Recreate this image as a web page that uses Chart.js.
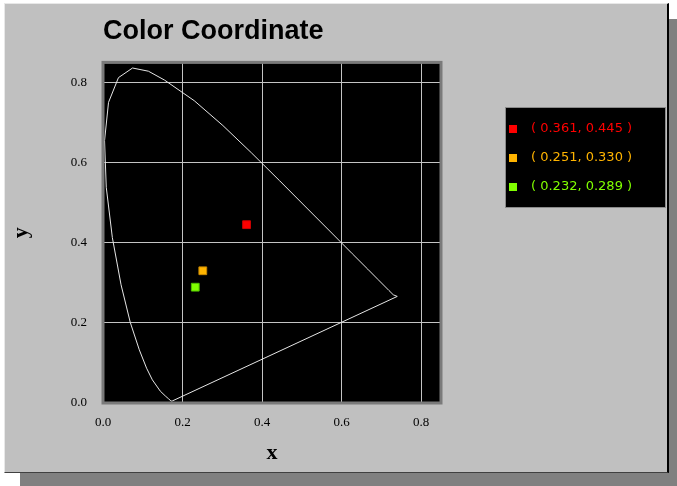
<!DOCTYPE html>
<html>
<head>
<meta charset="utf-8">
<script src="https://cdn.jsdelivr.net/npm/chart.js@4"></script>
<style>
  html, body { margin: 0; padding: 0; background: #ffffff; }
  #wrap { position: relative; width: 677px; height: 486px; overflow: hidden; }
  #shadow { position: absolute; left: 20px; top: 19px; width: 657px; height: 467px; background: #808080; }
  #panel { position: absolute; left: 4px; top: 3px; width: 662px; height: 468px; background: #c0c0c0;
    border-left: 1px solid #e8e8e8; border-top: 1px solid #e8e8e8; border-right: 2px solid #000; border-bottom: 1px solid #404040; }
  #chart { position: absolute; left: 0; top: 0; }
</style>
</head>
<body>
<div id="wrap">
  <div id="shadow"></div>
  <div id="panel"></div>
  <canvas id="chart" width="677" height="486"></canvas>
</div>
<script>
// CIE 1931 spectral locus (closed back to the start by the purple line)
var locusX = [0.1741, 0.1733, 0.1714, 0.1689, 0.1644, 0.1566, 0.1440, 0.1241, 0.1096, 0.0913, 0.0687, 0.0454,
  0.0235, 0.0082, 0.0039, 0.0139, 0.0389, 0.0743, 0.1142, 0.1547, 0.2296, 0.3016, 0.3731, 0.4441, 0.5125,
  0.5752, 0.6270, 0.6658, 0.6915, 0.7190, 0.7300, 0.7400, 0.1741];
var locusY = [0.0050, 0.0048, 0.0051, 0.0069, 0.0109, 0.0177, 0.0297, 0.0578, 0.0868, 0.1327, 0.2007, 0.2950,
  0.4127, 0.5384, 0.6548, 0.7502, 0.8120, 0.8360, 0.8280, 0.8059, 0.7543, 0.6923, 0.6245, 0.5547, 0.4866,
  0.4242, 0.3725, 0.3340, 0.3083, 0.2809, 0.2700, 0.2660, 0.0050];

// measured colour points
var pointX = [0.361, 0.251, 0.232];
var pointY = [0.445, 0.330, 0.289];
var pointColors = ['#ff0000', '#ffb400', '#80ff00'];
var pointBorders = ['#d00000', '#c88800', '#50c000'];

var tickValues = [0.0, 0.2, 0.4, 0.6, 0.8];

var locus = locusX.map(function (x, i) { return { x: x, y: locusY[i] }; });

var datasets = [{
  label: 'locus',
  data: locus,
  showLine: true,
  borderColor: '#e6e6e6',
  borderWidth: 1,
  pointRadius: 0,
  tension: 0
}];

pointX.forEach(function (x, i) {
  datasets.push({
    label: '( ' + x.toFixed(3) + ', ' + pointY[i].toFixed(3) + ' )',
    data: [{ x: x, y: pointY[i] }],
    pointStyle: 'rect',
    pointRadius: 5.5,
    pointBackgroundColor: pointColors[i],
    pointBorderColor: pointBorders[i],
    pointBorderWidth: 1
  });
});

//plot background and border
var plotFrame = {
  id: 'plotFrame',
  beforeDraw: function (chart) {
    var a = chart.chartArea, ctx = chart.ctx;
    ctx.save();
    ctx.fillStyle = '#000000';
    ctx.fillRect(a.left, a.top, a.right - a.left, a.bottom - a.top);
    ctx.restore();
  },
  afterDatasetsDraw: function (chart) {
    var a = chart.chartArea, ctx = chart.ctx;
    ctx.save();
    ctx.strokeStyle = '#7a7a7a';
    ctx.lineWidth = 3;
    ctx.strokeRect(a.left, a.top, a.right - a.left, a.bottom - a.top);
    ctx.restore();
  }
};

//legend box on the right
var pointLegend = {
  id: 'pointLegend',
  afterDraw: function (chart) {
    var ctx = chart.ctx;
    var bx = 506, by = 108, bw = 159, bh = 99;
    ctx.save();
    ctx.fillStyle = '#000000';
    ctx.fillRect(bx, by, bw, bh);
    ctx.strokeStyle = '#8a8a8a';
    ctx.lineWidth = 1;
    ctx.strokeRect(bx - 0.5, by - 0.5, bw + 1, bh + 1);
    ctx.font = '13px "DejaVu Sans"';
    ctx.textBaseline = 'middle';
    ctx.textAlign = 'left';
    chart.data.datasets.slice(1).forEach(function (ds, i) {
      var y = 129 + i * 29;
      ctx.fillStyle = pointColors[i];
      ctx.fillRect(509, y - 4, 8, 8);
      ctx.fillText(ds.label, 531, y);
    });
    ctx.restore();
  }
};

new Chart(document.getElementById('chart'), {
  type: 'scatter',
  data: { datasets: datasets },
  options: {
    responsive: false,
    animation: false,
    layout: { padding: { left: 0, right: 236, top: 0, bottom: 0 } },
    plugins: {
      legend: { display: false },
      tooltip: { enabled: false },
      title: {
        display: true,
        text: 'Color Coordinate',
        align: 'start',
        fullSize: false,
        color: '#000000',
        font: { family: '"Liberation Sans", Arial, sans-serif', size: 27, weight: 'bold', lineHeight: 1.2 },
        padding: { top: 15, bottom: 15 }
      }
    },
    scales: {
      x: {
        type: 'linear',
        min: 0,
        max: 0.85,
        afterFit: function (s) { s.height = 83; },
        afterBuildTicks: function (s) { s.ticks = tickValues.map(function (v) { return { value: v }; }); },
        border: { display: false },
        grid: { color: '#c4c4c4', lineWidth: 1, drawTicks: false },
        ticks: {
          padding: 12,
          color: '#000000',
          font: { family: '"Liberation Serif", "Times New Roman", serif', size: 13 },
          callback: function (v) { return v.toFixed(1); }
        },
        title: {
          display: true,
          text: 'x',
          color: '#000000',
          font: { family: '"Liberation Serif", "Times New Roman", serif', size: 22, weight: 'bold', lineHeight: 1.2 },
          padding: { top: 0, bottom: 19 }
        }
      },
      y: {
        type: 'linear',
        min: 0,
        max: 0.85,
        afterFit: function (s) { s.width = 103; },
        afterBuildTicks: function (s) { s.ticks = tickValues.map(function (v) { return { value: v }; }); },
        border: { display: false },
        grid: { color: '#c4c4c4', lineWidth: 1, drawTicks: false },
        ticks: {
          padding: 16,
          color: '#000000',
          font: { family: '"Liberation Serif", "Times New Roman", serif', size: 13 },
          callback: function (v) { return v.toFixed(1); }
        },
        title: {
          display: true,
          text: 'y',
          color: '#000000',
          font: { family: '"Liberation Serif", "Times New Roman", serif', size: 22, weight: 'bold', lineHeight: 1.2 },
          padding: { top: 8, bottom: 0 }
        }
      }
    }
  },
  plugins: [plotFrame, pointLegend]
});
</script>
</body>
</html>
